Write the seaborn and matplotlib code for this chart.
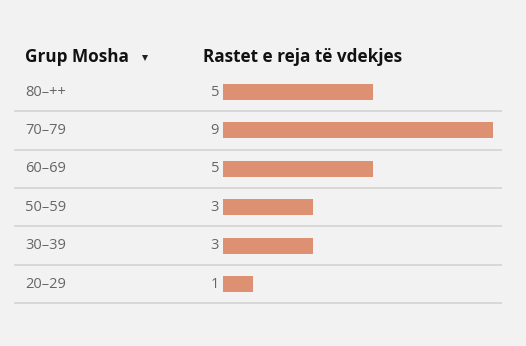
import matplotlib
matplotlib.use("Agg")
import matplotlib.pyplot as plt
import seaborn as sns
import pandas as pd

categories = ["80–++", "70–79", "60–69", "50–59", "30–39", "20–29"]
values = [5, 9, 5, 3, 3, 1]
header_left = "Grup Mosha"
header_right = "Rastet e reja të vdekjes"

sns.set_theme(style="white")
plt.rcParams['font.family'] = ['Open Sans', 'DejaVu Sans']

W, H = 526, 346
fig = plt.figure(figsize=(W / 100, H / 100), dpi=100)
bg = "#f2f2f2"
fig.patch.set_facecolor(bg)
ax = fig.add_axes([0, 0, 1, 1])
ax.set_facecolor(bg)

df = pd.DataFrame({"grp": categories, "val": values})
sns.barplot(data=df, x="val", y="grp", orient="h", color="#dd9072",
            width=0.42, saturation=1, linewidth=0, ax=ax)

# pixel mapping: x0 at 223 px, 30 px per unit; row0 center at 92 px, 38.4 px per row
px_per_x = 30.0
x0_px = 223.0
row_px = 38.4
r0_px = 92.0
ax.set_xlim(-x0_px / px_per_x, (W - x0_px) / px_per_x)
ax.set_ylim((H - r0_px) / row_px, -r0_px / row_px)
ax.axis("off")

def xd(px):
    return (px - x0_px) / px_per_x

def yd(px):
    return (px - r0_px) / row_px

for i, (c, v) in enumerate(zip(categories, values)):
    ax.text(xd(25), i, c, ha="left", va="center", fontsize=10.5, color="#666666")
    ax.text(xd(219), i, str(v), ha="right", va="center", fontsize=10.5, color="#666666")
    ax.plot([xd(14), xd(502)], [i + 0.5, i + 0.5], color="#d3d3d3", lw=1.2,
            solid_capstyle="butt")

ax.text(xd(25), yd(57), header_left, ha="left", va="center", fontsize=12.3,
        fontweight="bold", color="#111111")
ax.plot([xd(145)], [yd(57.5)], marker="v", color="#222222", markersize=4.5,
        markeredgewidth=0)
ax.text(xd(203), yd(57), header_right, ha="left", va="center", fontsize=12.3,
        fontweight="bold", color="#111111")

fig.savefig("out.png", dpi=100, facecolor=bg)
